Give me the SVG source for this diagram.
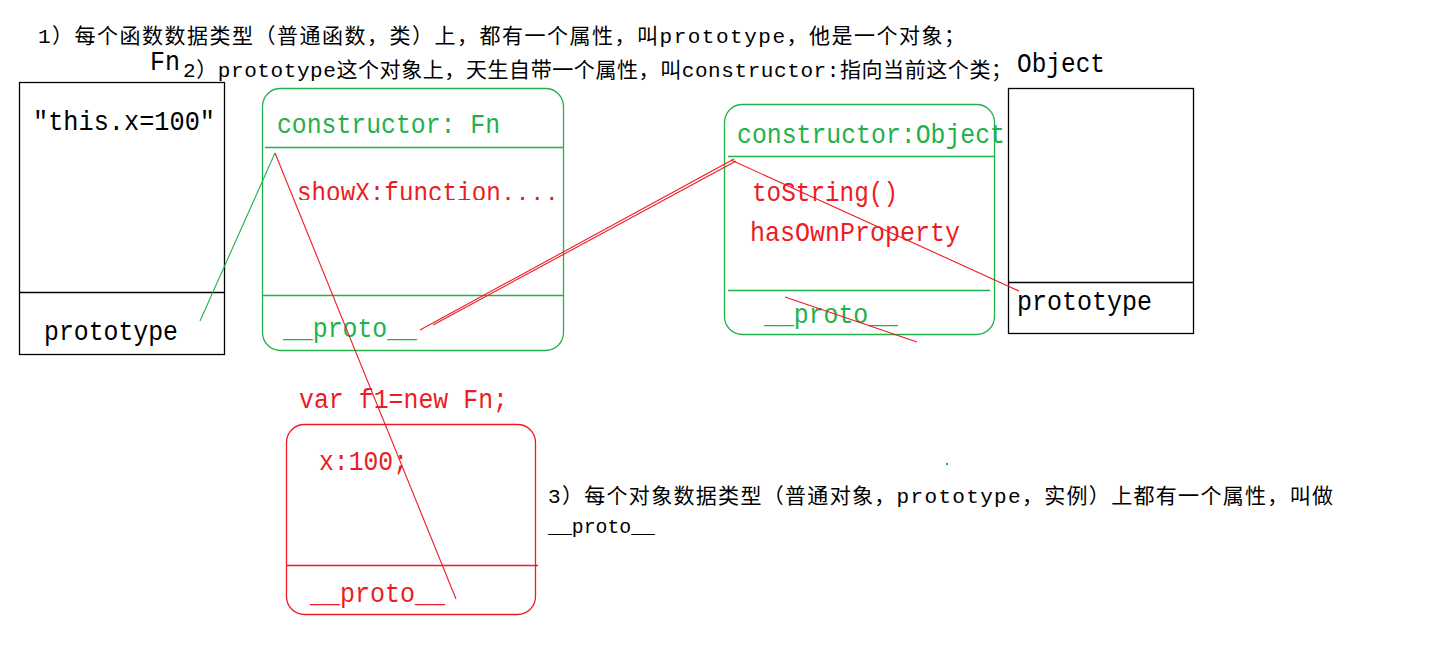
<svg xmlns="http://www.w3.org/2000/svg" width="1442" height="648" viewBox="0 0 1442 648">
<style>
.t{font-family:"Liberation Mono","Noto Sans CJK SC",monospace;font-size:27px}
.n{font-family:"Liberation Mono","Noto Sans CJK SC",monospace;font-size:21px;fill:#000}
.k{fill:#000}.g{fill:#22b14c}.r{fill:#ed1c24}
.bk{fill:none;stroke:#000;stroke-width:1.3}
.gb{fill:none;stroke:#22b14c;stroke-width:1.3}
.rb{fill:none;stroke:#ed1c24;stroke-width:1.3}
.ln{stroke-width:1.1;fill:none}
</style>
<defs>
<clipPath id="clipShow"><rect x="260" y="150" width="310" height="50"/></clipPath>
</defs>
<rect width="1442" height="648" fill="#fff"/>
<g id="notes">
<text class="n" x="38" y="43" textLength="927" lengthAdjust="spacing">1）每个函数数据类型（普通函数，类）上，都有一个属性，叫prototype，他是一个对象；</text>
<text class="n" x="183" y="77" textLength="829" lengthAdjust="spacing">2）prototype这个对象上，天生自带一个属性，叫constructor:指向当前这个类；</text>
<text class="n" x="548" y="503" textLength="785" lengthAdjust="spacing">3）每个对象数据类型（普通对象，prototype，实例）上都有一个属性，叫做</text>
<text class="n" x="548" y="533" textLength="107" lengthAdjust="spacingAndGlyphs">__proto__</text>
<rect x="946" y="463" width="2" height="2" fill="#22b14c"/>
</g>
<g id="Fn">
<text class="t k" x="150" y="70" textLength="30" lengthAdjust="spacingAndGlyphs" style="font-size:28px">Fn</text>
<rect class="bk" x="19.5" y="82.5" width="205" height="272"/>
<line class="bk" x1="19" y1="292.5" x2="224" y2="292.5"/>
<text class="t k" x="33" y="130" textLength="182" lengthAdjust="spacingAndGlyphs">"this.x=100"</text>
<text class="t k" x="44" y="340" textLength="134" lengthAdjust="spacingAndGlyphs">prototype</text>
</g>
<g id="FnPrototype">
<rect class="gb" x="262.5" y="88.5" width="301" height="262" rx="18"/>
<line class="gb" x1="265" y1="147.5" x2="563" y2="147.5"/>
<line class="gb" x1="262" y1="295.5" x2="563" y2="295.5"/>
<text class="t g" x="277" y="133" textLength="223" lengthAdjust="spacingAndGlyphs">constructor: Fn</text>
<text class="t r" x="297" y="201" textLength="262" lengthAdjust="spacingAndGlyphs" clip-path="url(#clipShow)">showX:function....</text>
<text class="t g" x="283" y="337" textLength="134" lengthAdjust="spacingAndGlyphs">__proto__</text>
</g>
<g id="ObjectPrototype">
<rect class="gb" x="724.5" y="104.5" width="270" height="230" rx="18"/>
<line class="gb" x1="728" y1="156.5" x2="995" y2="156.5"/>
<line class="gb" x1="728" y1="290.5" x2="990" y2="290.5"/>
<text class="t g" x="737" y="143" textLength="268" lengthAdjust="spacingAndGlyphs">constructor:Object</text>
<text class="t r" x="752" y="201" textLength="146" lengthAdjust="spacingAndGlyphs">toString()</text>
<text class="t r" x="750" y="241" textLength="210" lengthAdjust="spacingAndGlyphs">hasOwnProperty</text>
<text class="t g" x="764" y="323" textLength="134" lengthAdjust="spacingAndGlyphs">__proto__</text>
</g>
<g id="Object">
<text class="t k" x="1017" y="72" textLength="88" lengthAdjust="spacingAndGlyphs" style="font-size:28px">Object</text>
<rect class="bk" x="1008.5" y="88.5" width="185" height="245"/>
<line class="bk" x1="1008" y1="282.5" x2="1193" y2="282.5"/>
<text class="t k" x="1017" y="310" textLength="135" lengthAdjust="spacingAndGlyphs">prototype</text>
</g>
<g id="f1">
<text class="t r" x="299" y="408" textLength="209" lengthAdjust="spacingAndGlyphs">var f1=new Fn;</text>
<rect class="rb" x="286.5" y="424.5" width="249" height="190" rx="18"/>
<line class="rb" x1="286" y1="565.5" x2="538" y2="565.5"/>
<text class="t r" x="319" y="470" textLength="89" lengthAdjust="spacingAndGlyphs">x:100;</text>
<text class="t r" x="310" y="602" textLength="135" lengthAdjust="spacingAndGlyphs">__proto__</text>
</g>
<g id="connectors">
<line class="ln" stroke="#22b14c" x1="200" y1="321" x2="275" y2="153"/>
<line class="ln" stroke="#ed1c24" x1="275" y1="153" x2="456" y2="599"/>
<line class="ln" stroke="#ed1c24" x1="420" y1="330" x2="734" y2="159"/>
<line class="ln" stroke="#ed1c24" x1="433" y1="325" x2="736" y2="161"/>
<line class="ln" stroke="#ed1c24" x1="731" y1="160" x2="1019" y2="291"/>
<line class="ln" stroke="#ed1c24" x1="785" y1="297" x2="917" y2="342"/>
</g>
</svg>
